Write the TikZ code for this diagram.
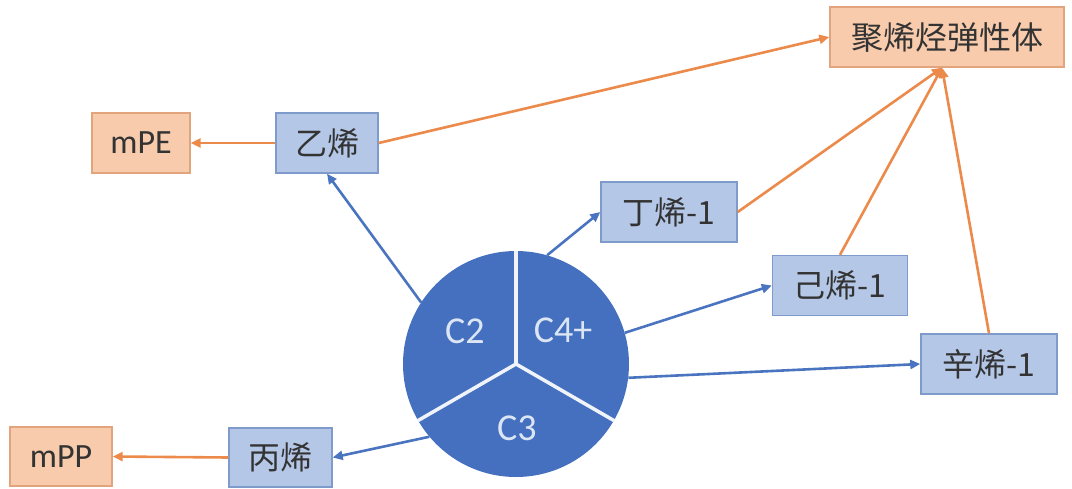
\documentclass[tikz,border=0pt]{standalone}
\usepackage{fontspec}
\setmainfont{Carlito}
\newfontfamily\cjk{Noto Sans CJK SC}
\usetikzlibrary{arrows.meta}

\definecolor{pieblue}{HTML}{4470BF}
\definecolor{pietext}{HTML}{DCE5F4}
\definecolor{boxblue}{HTML}{B4C7E7}
\definecolor{boxblueline}{HTML}{7F9BCB}
\definecolor{boxorange}{HTML}{F8CBAD}
\definecolor{boxorangeline}{HTML}{E2A47C}
\definecolor{linkblue}{HTML}{4A74C0}
\definecolor{linkorange}{HTML}{EB8A4A}
\definecolor{textgray}{HTML}{333333}

\tikzset{
  basebox/.style={line width=1.4pt, inner sep=0pt, minimum height=60pt, text=textgray},
  bluebox/.style={basebox, draw=boxblueline, fill=boxblue, font=\cjk\fontsize{32}{32}\selectfont},
  orangebox/.style={basebox, draw=boxorangeline, fill=boxorange},
  latinlabel/.style={font=\fontsize{34}{34}\selectfont},
  cjklabel/.style={font=\cjk\fontsize{32}{32}\selectfont},
  pielabel/.style={text=pietext, font=\fontsize{38}{38}\selectfont, inner sep=0pt},
  bluelink/.style={draw=linkblue, line width=2.6pt, -{Triangle[length=10pt,width=9pt]}},
  orangelink/.style={draw=linkorange, line width=2.6pt, -{Triangle[length=10pt,width=9pt]}},
  divider/.style={draw=white!92!pieblue, line width=3.5pt}
}

\begin{document}
\begin{tikzpicture}[x=1pt,y=-1pt]
\useasboundingbox (0,0) rectangle (1072,488);

% products
\node[orangebox, cjklabel, minimum width=234pt] (poe) at (947,37) {聚烯烃弹性体};
\node[orangebox, latinlabel, minimum width=98pt] (mpe) at (141,143) {mPE};
\node[orangebox, latinlabel, minimum width=102pt, minimum height=59pt] (mpp) at (61,456.5) {mPP};

% monomers
\node[bluebox, minimum width=102pt] (ethylene) at (327,143) {乙烯};
\node[bluebox, minimum width=136pt] (butene) at (669,212) {丁烯-1};
\node[bluebox, minimum width=135pt] (hexene) at (840,285.5) {己烯-1};
\node[bluebox, minimum width=136pt] (octene) at (989,364) {辛烯-1};
\node[bluebox, minimum width=103pt, minimum height=59pt] (propylene) at (280.5,457.5) {丙烯};

% feedstock pie
\node[circle, fill=pieblue, minimum size=226pt, inner sep=0pt] (pie) at (516,364) {};
\draw[divider] (pie.center) -- (pie.90);
\draw[divider] (pie.center) -- (pie.210);
\draw[divider] (pie.center) -- (pie.330);
\node[pielabel] (c2) at (465,331) {C2};
\node[pielabel] (c4) at (563,330) {C4+};
\node[pielabel] (c3) at (517,428) {C3};

% feedstock to monomers
\draw[bluelink] (pie.147) -- (ethylene.south);
\draw[bluelink] (pie.74) -- (butene.west);
\draw[bluelink] (pie.16) -- (hexene.west);
\draw[bluelink] (pie.-7) -- (octene.west);
\draw[bluelink] (pie.220) -- (propylene.east);

% monomers to products
\coordinate (poefoot) at ([xshift=-5pt]poe.south);
\draw[orangelink] (ethylene.west) -- (mpe.east);
\draw[orangelink] (propylene.west) -- (mpp.east);
\draw[orangelink] (ethylene.east) -- (poe.west);
\draw[orangelink] (butene.east) -- (poefoot);
\draw[orangelink] (hexene.north) -- (poefoot);
\draw[orangelink] (octene.north) -- (poefoot);
\end{tikzpicture}
\end{document}
